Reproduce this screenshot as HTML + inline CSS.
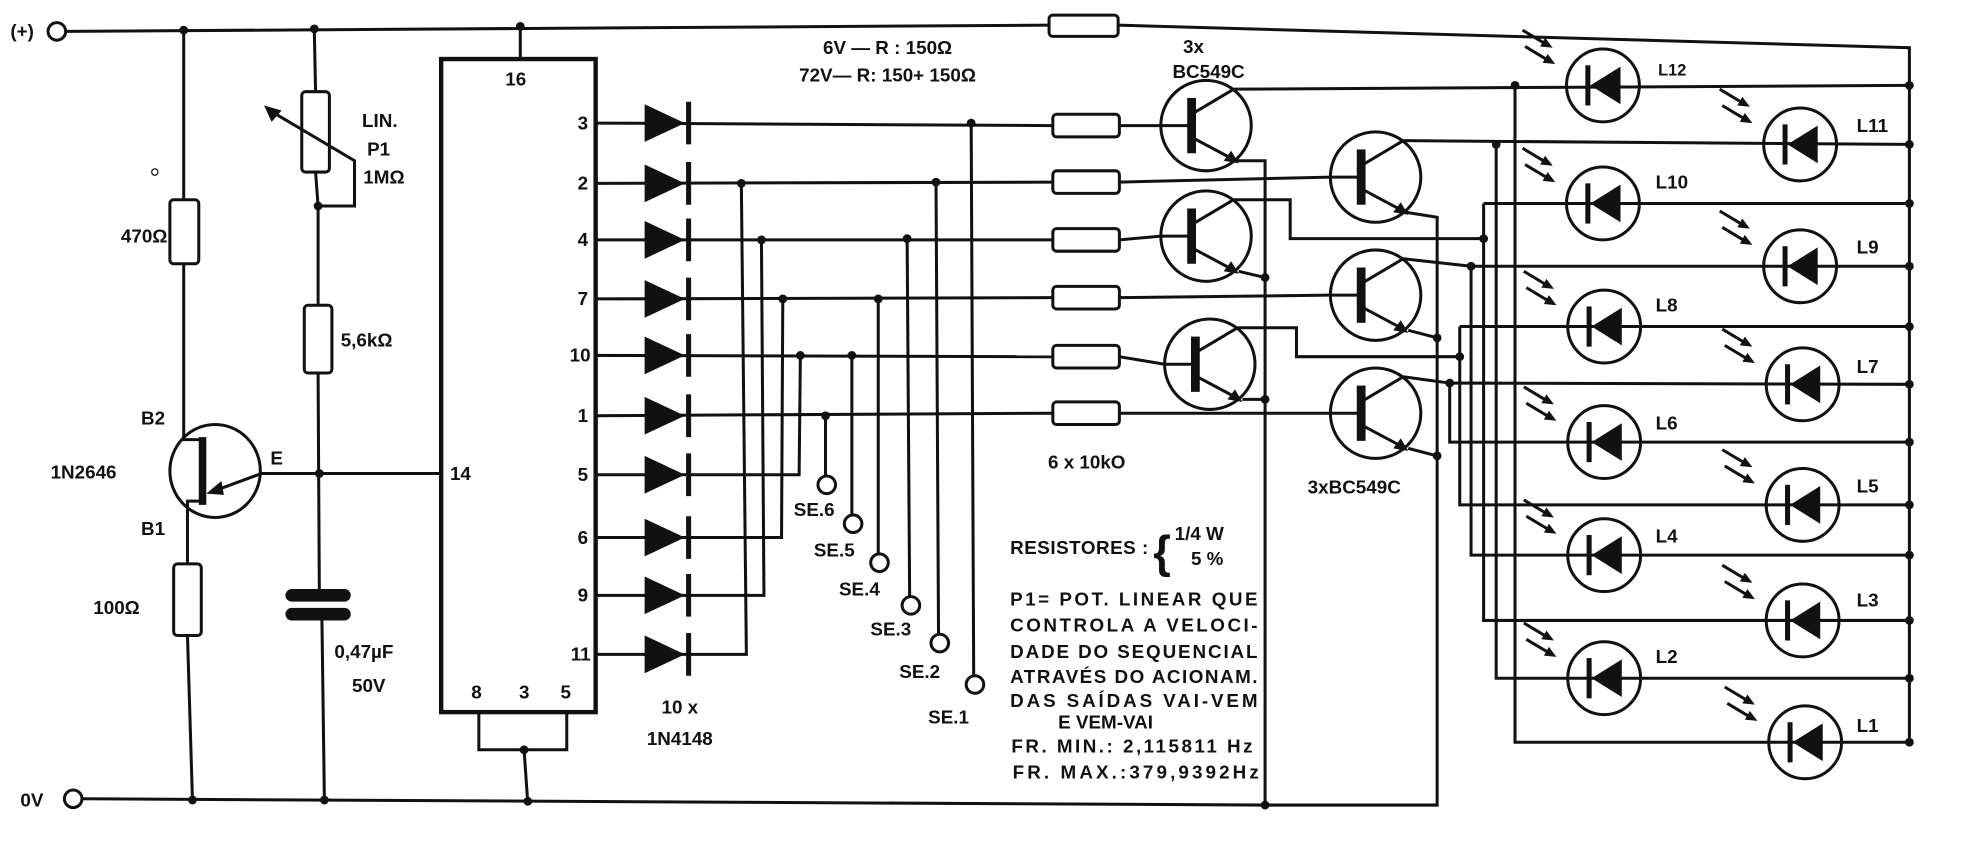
<!DOCTYPE html>
<html><head><meta charset="utf-8"><style>
html,body{margin:0;padding:0;background:#fff;}
svg{display:block;}
text{font-family:"Liberation Sans",sans-serif;fill:#111;font-weight:bold;}
</style></head><body>
<svg width="1970" height="844" viewBox="0 0 1568 672" xmlns="http://www.w3.org/2000/svg">
<defs>
<g id="dio"><polygon points="513,-15 513,15 545,0" fill="#111"/><line x1="548" y1="-17" x2="548" y2="17" stroke="#111" stroke-width="4"/></g>
<g id="led" stroke="#111" stroke-width="2.4" fill="none">
<circle r="29"/>
<polygon points="14,-15 14,15 -10,0" fill="#111" stroke="none"/>
<line x1="-12" y1="-16" x2="-12" y2="16" stroke-width="4"/>
<line x1="-64" y1="-44" x2="-44" y2="-32"/><polygon points="-40,-30 -50,-31 -46,-38" fill="#111" stroke="none"/>
<line x1="-62" y1="-31" x2="-42" y2="-19"/><polygon points="-38,-17 -48,-18 -44,-25" fill="#111" stroke="none"/>
</g>
<g id="tr" stroke="#111" stroke-width="2.4" fill="none">
<circle r="36"/>
<line x1="-36" y1="0" x2="-12" y2="0"/>
<rect x="-15" y="-22" width="7" height="44" fill="#111" stroke="none"/>
<line x1="-10" y1="-10" x2="22" y2="-29"/>
<line x1="-10" y1="10" x2="20" y2="26"/>
<polygon points="26,30 14,28 20,20" fill="#111" stroke="none"/>
</g>
</defs>
<g stroke="#111" stroke-width="2.4" fill="none">
<circle cx="45" cy="25" r="7"/>
<polyline points="52,25 835,20"/>
<rect x="835" y="12" width="55" height="17" rx="3"/>
<polyline points="890,20 1520,38 1520,591"/>
<circle cx="58" cy="636" r="7"/>
<polyline points="65,636 1007,641 1144,641 1144,173 1119,169"/>
<polyline points="146,25 146,159"/>
<rect x="135" y="159" width="23" height="51" rx="3"/>
<polyline points="146,210 146,350 161,350"/>
<ellipse cx="171" cy="375" rx="36" ry="37"/>
<line x1="161" y1="348" x2="161" y2="402" stroke-width="6"/>
<polyline points="161,399 149,399 149,449"/>
<rect x="138" y="449" width="22" height="57" rx="3"/>
<polyline points="149,506 153,638"/>
<line x1="208" y1="377" x2="170" y2="391"/>
<polyline points="208,377 351,377"/>
<polyline points="250,25 251,73"/>
<rect x="240" y="73" width="22" height="64" rx="3"/>
<polyline points="251,137 253,164 253,243"/>
<polyline points="218,90 282,128 282,164 253,164"/>
<rect x="242" y="243" width="22" height="54" rx="3"/>
<polyline points="253,297 254,474"/>
<polyline points="256,489 258,636"/>
<rect x="351" y="47" width="123" height="520" stroke-width="3.5"/>
<line x1="414" y1="22" x2="414" y2="47"/>
<polyline points="381,567 381,597 451,597 451,567"/>
<polyline points="417,597 420,640"/>
<line x1="474" y1="98" x2="838" y2="100"/>
<line x1="474" y1="146" x2="838" y2="145"/>
<line x1="474" y1="191" x2="838" y2="191"/>
<line x1="474" y1="238" x2="838" y2="237"/>
<line x1="474" y1="283" x2="838" y2="284"/>
<line x1="474" y1="331" x2="838" y2="329"/>
<polyline points="474,378 636,378 637,283"/>
<polyline points="474,428 622,428 623,238"/>
<polyline points="474,474 608,474 606,191"/>
<polyline points="474,521 594,521 590,146"/>
<line x1="657" y1="331" x2="657" y2="379"/><circle cx="658" cy="386" r="7"/>
<line x1="678" y1="283" x2="678" y2="410"/><circle cx="679" cy="417" r="7"/>
<line x1="699" y1="238" x2="699" y2="441"/><circle cx="700" cy="448" r="7"/>
<line x1="722" y1="190" x2="724" y2="475"/><circle cx="725" cy="482" r="7"/>
<line x1="745" y1="145" x2="747" y2="505"/><circle cx="748" cy="512" r="7"/>
<line x1="773" y1="98" x2="775" y2="538"/><circle cx="776" cy="545" r="7"/>
<rect x="838" y="91" width="53" height="18" rx="3" fill="#fff"/>
<rect x="838" y="136" width="53" height="18" rx="3" fill="#fff"/>
<rect x="838" y="182" width="53" height="18" rx="3" fill="#fff"/>
<rect x="838" y="228" width="53" height="18" rx="3" fill="#fff"/>
<rect x="838" y="275" width="53" height="18" rx="3" fill="#fff"/>
<rect x="838" y="320" width="53" height="18" rx="3" fill="#fff"/>
<line x1="891" y1="100" x2="924" y2="100"/>
<line x1="891" y1="145" x2="1059" y2="141"/>
<line x1="891" y1="191" x2="924" y2="188"/>
<line x1="891" y1="237" x2="1059" y2="235"/>
<line x1="891" y1="284" x2="927" y2="290"/>
<line x1="891" y1="329" x2="1059" y2="329"/>
<polyline points="984,128 1007,128 1007,641"/>
<polyline points="982,71 1520,68"/>
<polyline points="982,159 1027,159 1027,190 1181,190"/>
<line x1="986" y1="216" x2="1007" y2="221"/>
<polyline points="985,261 1032,261 1032,284 1162,284"/>
<line x1="989" y1="318" x2="1007" y2="318"/>
<polyline points="1117,112 1520,115"/>
<polyline points="1117,206 1171,212"/>
<line x1="1121" y1="263" x2="1144" y2="269"/>
<polyline points="1117,300 1154,305"/>
<line x1="1121" y1="357" x2="1144" y2="363"/>
<polyline points="1206,68 1206,591 1520,591"/>
<polyline points="1191,115 1191,540 1520,540"/>
<polyline points="1181,162 1181,494 1520,494"/>
<line x1="1181" y1="162" x2="1520" y2="162"/>
<polyline points="1171,212 1520,212"/>
<polyline points="1171,212 1171,442 1520,442"/>
<polyline points="1162,260 1162,402 1520,402"/>
<line x1="1162" y1="260" x2="1520" y2="260"/>
<polyline points="1154,305 1520,306"/>
<polyline points="1154,305 1154,352 1520,352"/>
<line x1="232" y1="474" x2="274" y2="474" stroke-width="10" stroke-linecap="round"/>
<line x1="232" y1="489" x2="274" y2="489" stroke-width="10" stroke-linecap="round"/>
<circle cx="123" cy="137" r="2.5" stroke-width="1"/>
</g>
<polygon points="210,84 224,88 216,97" fill="#111"/>
<polygon points="164,393 176,383 178,394" fill="#111"/>
<use href="#dio" y="98"/><use href="#dio" y="146"/><use href="#dio" y="191"/><use href="#dio" y="238"/><use href="#dio" y="283"/>
<use href="#dio" y="331"/><use href="#dio" y="378"/><use href="#dio" y="428"/><use href="#dio" y="474"/><use href="#dio" y="521"/>
<use href="#tr" x="960" y="100"/><use href="#tr" x="960" y="188"/><use href="#tr" x="963" y="290"/>
<use href="#tr" x="1095" y="141"/><use href="#tr" x="1095" y="235"/><use href="#tr" x="1095" y="329"/>
<use href="#led" x="1276" y="68"/><use href="#led" x="1276" y="162"/><use href="#led" x="1277" y="260"/>
<use href="#led" x="1277" y="352"/><use href="#led" x="1277" y="442"/><use href="#led" x="1277" y="540"/>
<use href="#led" x="1433" y="115"/><use href="#led" x="1433" y="212"/><use href="#led" x="1435" y="306"/>
<use href="#led" x="1435" y="402"/><use href="#led" x="1435" y="494"/><use href="#led" x="1437" y="591"/>
<g fill="#111">
<circle cx="146" cy="24" r="3.5"/><circle cx="250" cy="23" r="3.5"/><circle cx="414" cy="21" r="3.5"/>
<circle cx="153" cy="637" r="3.5"/><circle cx="258" cy="637" r="3.5"/><circle cx="420" cy="638" r="3.5"/><circle cx="1007" cy="641" r="3.5"/>
<circle cx="253" cy="164" r="3.5"/><circle cx="254" cy="377" r="3.5"/><circle cx="417" cy="597" r="3.5"/>
<circle cx="590" cy="146" r="3.5"/><circle cx="745" cy="145" r="3.5"/><circle cx="606" cy="191" r="3.5"/><circle cx="722" cy="190" r="3.5"/>
<circle cx="623" cy="238" r="3.5"/><circle cx="699" cy="238" r="3.5"/><circle cx="637" cy="283" r="3.5"/><circle cx="678" cy="283" r="3.5"/>
<circle cx="657" cy="331" r="3.5"/><circle cx="773" cy="98" r="3.5"/>
<circle cx="1007" cy="221" r="3.5"/><circle cx="1007" cy="318" r="3.5"/><circle cx="1144" cy="269" r="3.5"/><circle cx="1144" cy="363" r="3.5"/>
<circle cx="1206" cy="68" r="3.5"/><circle cx="1191" cy="115" r="3.5"/><circle cx="1181" cy="190" r="3.5"/><circle cx="1171" cy="212" r="3.5"/>
<circle cx="1162" cy="284" r="3.5"/><circle cx="1154" cy="305" r="3.5"/>
<circle cx="1520" cy="68" r="3.5"/><circle cx="1520" cy="115" r="3.5"/><circle cx="1520" cy="162" r="3.5"/><circle cx="1520" cy="212" r="3.5"/>
<circle cx="1520" cy="260" r="3.5"/><circle cx="1520" cy="306" r="3.5"/><circle cx="1520" cy="352" r="3.5"/><circle cx="1520" cy="402" r="3.5"/>
<circle cx="1520" cy="442" r="3.5"/><circle cx="1520" cy="494" r="3.5"/><circle cx="1520" cy="540" r="3.5"/><circle cx="1520" cy="591" r="3.5"/>
</g>
<g font-size="15">
<text x="8" y="30">(+)</text>
<text x="16" y="642">0V</text>
<text x="96" y="193">470Ω</text>
<text x="112" y="338">B2</text>
<text x="40" y="381">1N2646</text>
<text x="112" y="426">B1</text>
<text x="215" y="370">E</text>
<text x="74" y="489">100Ω</text>
<text x="288" y="101">LIN.</text>
<text x="292" y="124">P1</text>
<text x="289" y="146">1MΩ</text>
<text x="271" y="276">5,6kΩ</text>
<text x="266" y="524">0,47µF</text>
<text x="280" y="551">50V</text>
<text x="402" y="68">16</text>
<text x="358" y="382">14</text>
<text x="375" y="556">8</text><text x="413" y="556">3</text><text x="446" y="556">5</text>
<g text-anchor="end"><text x="468" y="103">3</text><text x="468" y="151">2</text><text x="468" y="196">4</text><text x="468" y="243">7</text>
<text x="470" y="288">10</text><text x="468" y="336">1</text><text x="468" y="383">5</text><text x="468" y="433">6</text><text x="468" y="479">9</text><text x="470" y="526">11</text></g>
<text x="541" y="568" text-anchor="middle">10 x</text>
<text x="541" y="593" text-anchor="middle">1N4148</text>
<text x="648" y="411" text-anchor="middle">SE.6</text>
<text x="664" y="443" text-anchor="middle">SE.5</text>
<text x="684" y="474" text-anchor="middle">SE.4</text>
<text x="709" y="506" text-anchor="middle">SE.3</text>
<text x="732" y="540" text-anchor="middle">SE.2</text>
<text x="755" y="576" text-anchor="middle">SE.1</text>
<text x="655" y="43">6V — R : 150Ω</text>
<text x="636" y="65">72V— R: 150+ 150Ω</text>
<text x="950" y="42" text-anchor="middle">3x</text>
<text x="962" y="62" text-anchor="middle">BC549C</text>
<text x="865" y="373" text-anchor="middle">6 x 10kO</text>
<text x="1078" y="393" text-anchor="middle">3xBC549C</text>
<text x="804" y="441" textLength="110">RESISTORES :</text>
<text x="918" y="452" font-size="36" font-weight="normal">{</text>
<text x="935" y="430">1/4 W</text>
<text x="948" y="450">5 %</text>
<text x="804" y="482" textLength="197">P1= POT. LINEAR QUE</text>
<text x="804" y="503" textLength="197">CONTROLA  A VELOCI-</text>
<text x="804" y="524" textLength="197">DADE DO SEQUENCIAL</text>
<text x="804" y="544" textLength="197">ATRAVÉS DO ACIONAM.</text>
<text x="804" y="563" textLength="197">DAS SAÍDAS VAI-VEM</text>
<text x="880" y="580" text-anchor="middle">E VEM-VAI</text>
<text x="805" y="599" textLength="192">FR. MIN.: 2,115811 Hz</text>
<text x="806" y="620" textLength="196">FR. MAX.:379,9392Hz</text>
<text x="1320" y="60" font-size="13" font-weight="normal">L12</text>
<text x="1478" y="105">L11</text>
<text x="1318" y="150">L10</text>
<text x="1478" y="202">L9</text>
<text x="1318" y="248">L8</text>
<text x="1478" y="297">L7</text>
<text x="1318" y="342">L6</text>
<text x="1478" y="392">L5</text>
<text x="1318" y="432">L4</text>
<text x="1478" y="483">L3</text>
<text x="1318" y="528">L2</text>
<text x="1478" y="583">L1</text>
</g>
</svg>
</body></html>
